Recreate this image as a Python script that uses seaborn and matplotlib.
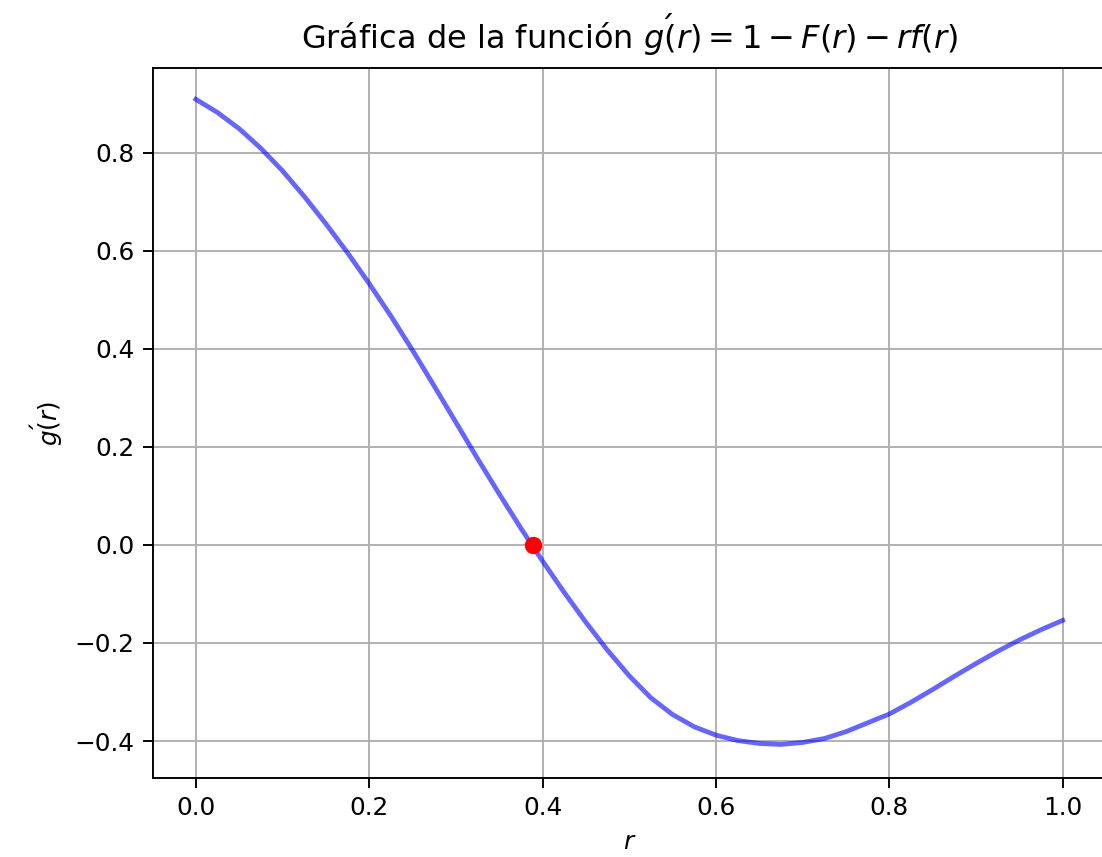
import numpy as np
import pandas as pd
import matplotlib
matplotlib.use("Agg")
import matplotlib.pyplot as plt
import seaborn as sns

# Values
r_values = [0.000, 0.025, 0.050, 0.075, 0.100, 0.125, 0.150, 0.175, 0.200,
            0.225, 0.250, 0.275, 0.300, 0.325, 0.350, 0.375, 0.400, 0.425,
            0.450, 0.475, 0.500, 0.525, 0.550, 0.575, 0.600, 0.625, 0.650,
            0.675, 0.700, 0.725, 0.750, 0.775, 0.800, 0.825, 0.850, 0.875,
            0.900, 0.925, 0.950, 0.975, 1.000]
g_values = [0.909, 0.882, 0.849, 0.809, 0.763, 0.711, 0.655, 0.596, 0.533,
            0.467, 0.397, 0.324, 0.250, 0.176, 0.104, 0.034, -0.033, -0.097,
            -0.158, -0.215, -0.267, -0.312, -0.346, -0.371, -0.388, -0.399, -0.405,
            -0.407, -0.403, -0.395, -0.381, -0.363, -0.345, -0.321, -0.295, -0.268,
            -0.242, -0.217, -0.194, -0.173, -0.154]
root_r = [0.389]
root_g = [0.0]

x_ticks = [0.0, 0.2, 0.4, 0.6, 0.8, 1.0]
y_ticks = [-0.4, -0.2, 0.0, 0.2, 0.4, 0.6, 0.8]

title_text = r"Gráfica de la función $g\'(r) = 1 - F(r) - rf(r)$"
xlabel_text = r"$r$"
ylabel_text = r"$g\'(r)$"

S = 1.72  # scale factor relative to matplotlib defaults

plt.rcParams.update({
    "font.family": ["DejaVu Sans"],
    "mathtext.fontset": "dejavusans",
    "axes.linewidth": 0.8 * S,
    "xtick.major.width": 0.8 * S,
    "ytick.major.width": 0.8 * S,
    "xtick.major.size": 7.2,
    "ytick.major.size": 7.2,
    "xtick.major.pad": 3.5 * S,
    "ytick.major.pad": 3.5 * S,
})

fig = plt.figure(figsize=(11.02, 8.57), dpi=100)
ax = fig.add_axes([0.1384, 0.0925, 1.0036 - 0.1384, 0.9203 - 0.0925])

df = pd.DataFrame({"r": r_values, "g": g_values})
sns.lineplot(data=df, x="r", y="g", ax=ax, color="blue", alpha=0.6,
             linewidth=2.0 * S, sort=False, estimator=None)
sns.scatterplot(x=root_r, y=root_g, ax=ax, color="red", s=12.5 ** 2,
                edgecolor="red", linewidth=0, zorder=5)

ax.set_xlim(-0.05, 1.05)
ax.set_ylim(-0.4749, 0.9722)
ax.set_xticks(x_ticks)
ax.set_yticks(y_ticks)
ax.tick_params(labelsize=17.8)
ax.grid(True, color="#b0b0b0", linewidth=0.8 * S)
ax.set_axisbelow(True)

ax.set_title(title_text, fontsize=23, pad=8 * S)
ax.set_xlabel(xlabel_text, fontsize=17.8, labelpad=4 * S)
ax.set_ylabel(ylabel_text, fontsize=17.8, labelpad=4 * S)

fig.savefig("out.png", dpi=100)
